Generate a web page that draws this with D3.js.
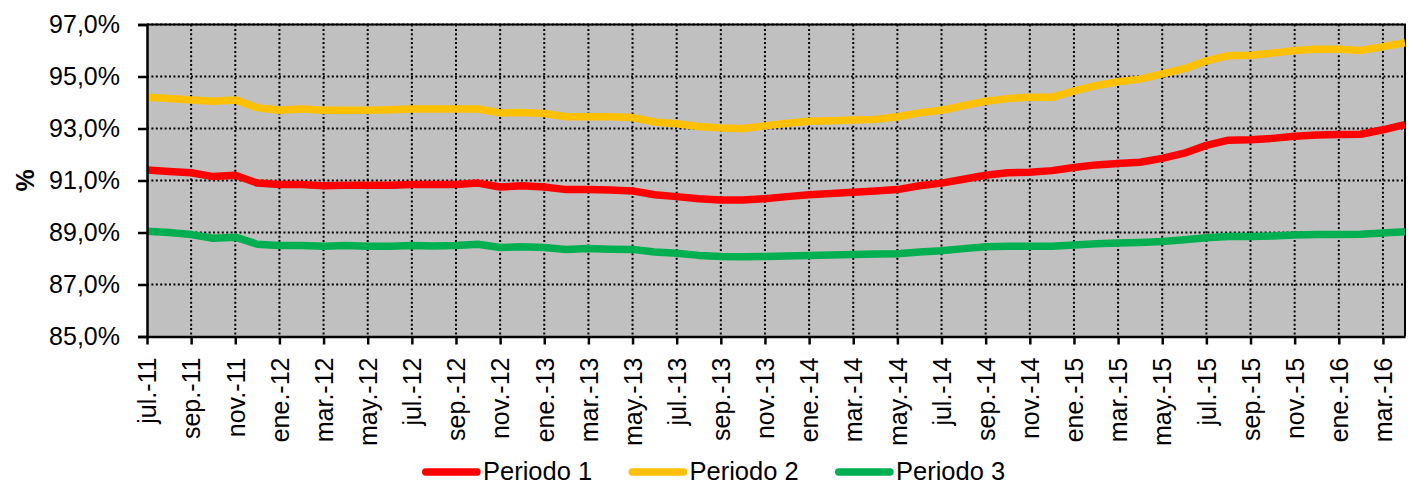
<!DOCTYPE html>
<html>
<head>
<meta charset="utf-8">
<script src="https://cdn.jsdelivr.net/npm/d3@7"></script>
<style>
  body { margin: 0; background: #fff; }
  svg { display: block; font-family: "Liberation Sans", Arial, sans-serif; }
</style>
</head>
<body>
<script>
// months jul-11 .. abr-16
let months = ['jul.-11','ago.-11','sep.-11','oct.-11','nov.-11','dic.-11',
  'ene.-12','feb.-12','mar.-12','abr.-12','may.-12','jun.-12','jul.-12','ago.-12','sep.-12','oct.-12','nov.-12','dic.-12',
  'ene.-13','feb.-13','mar.-13','abr.-13','may.-13','jun.-13','jul.-13','ago.-13','sep.-13','oct.-13','nov.-13','dic.-13',
  'ene.-14','feb.-14','mar.-14','abr.-14','may.-14','jun.-14','jul.-14','ago.-14','sep.-14','oct.-14','nov.-14','dic.-14',
  'ene.-15','feb.-15','mar.-15','abr.-15','may.-15','jun.-15','jul.-15','ago.-15','sep.-15','oct.-15','nov.-15','dic.-15',
  'ene.-16','feb.-16','mar.-16','abr.-16'];

let periodo1 = [91.4,91.35,91.3,91.15,91.2,90.9,90.85,90.85,90.8,90.82,90.82,90.82,90.85,90.85,90.85,90.9,90.75,90.8,
  90.75,90.65,90.65,90.63,90.6,90.45,90.38,90.3,90.25,90.25,90.3,90.38,90.45,90.5,90.55,90.6,90.65,90.8,90.9,91.05,
  91.2,91.3,91.32,91.38,91.5,91.6,91.65,91.7,91.85,92.05,92.35,92.55,92.57,92.62,92.7,92.75,92.77,92.78,92.95,93.15];

let periodo2 = [94.2,94.15,94.1,94.05,94.1,93.8,93.7,93.75,93.7,93.7,93.7,93.72,93.75,93.75,93.75,93.75,93.6,93.62,
  93.58,93.45,93.45,93.45,93.42,93.25,93.18,93.08,93.02,93.0,93.1,93.2,93.28,93.3,93.33,93.35,93.45,93.6,93.7,93.88,
  94.05,94.15,94.2,94.2,94.45,94.65,94.8,94.9,95.1,95.3,95.6,95.8,95.82,95.9,96.0,96.05,96.05,96.0,96.15,96.3];

let periodo3 = [89.05,89.0,88.92,88.78,88.82,88.55,88.5,88.5,88.47,88.5,88.47,88.47,88.5,88.48,88.5,88.55,88.42,88.45,
  88.42,88.35,88.38,88.36,88.35,88.25,88.2,88.12,88.08,88.07,88.08,88.1,88.12,88.13,88.15,88.17,88.18,88.25,88.3,88.38,
  88.45,88.47,88.47,88.47,88.52,88.57,88.6,88.62,88.65,88.72,88.8,88.85,88.85,88.87,88.9,88.92,88.92,88.93,88.98,89.03];

let seriesNames = ['Periodo 1', 'Periodo 2', 'Periodo 3'];
let seriesColors = ['#ff0000', '#ffc000', '#00b050'];
let yTicks = [85, 87, 89, 91, 93, 95, 97];

let width = 1413, height = 482;
let plotL = 147, plotR = 1405, plotT = 24.5, plotB = 336.5;

let svg = d3.select('body').append('svg')
  .attr('width', width)
  .attr('height', height);

let x = d3.scalePoint().domain(months).range([plotL, plotR]);
let y = d3.scaleLinear().domain([85, 97]).range([plotB, plotT]);

let labelMonths = months.filter((d, i) => i % 2 === 0);

// plot background
svg.append('rect')
  .attr('x', plotL).attr('y', plotT)
  .attr('width', plotR - plotL).attr('height', plotB - plotT)
  .attr('fill', '#c0c0c0');

// grid
svg.append('g').selectAll('line')
  .data(yTicks.slice(1))
  .enter().append('line')
  .attr('x1', plotL).attr('x2', plotR)
  .attr('y1', d => y(d)).attr('y2', d => y(d))
  .attr('stroke', '#000').attr('stroke-width', 2)
  .attr('stroke-dasharray', '2,2.4');

svg.append('g').selectAll('line')
  .data(labelMonths.slice(1))
  .enter().append('line')
  .attr('x1', d => x(d)).attr('x2', d => x(d))
  .attr('y1', plotT).attr('y2', plotB)
  .attr('stroke', '#000').attr('stroke-width', 2)
  .attr('stroke-dasharray', '2,2.4');

// border top/right
svg.append('path')
  .attr('d', 'M' + plotL + ',' + plotT + 'H' + plotR + 'V' + plotB)
  .attr('fill', 'none').attr('stroke', '#000').attr('stroke-width', 2);

// lines
let line = d3.line().x((d, i) => x(months[i])).y(d => y(d));
[periodo1, periodo2, periodo3].forEach((s, k) => {
  svg.append('path')
    .datum(s)
    .attr('d', line)
    .attr('fill', 'none')
    .attr('stroke', seriesColors[k])
    .attr('stroke-width', 7.5)
    .attr('stroke-linejoin', 'round');
});

// axes
let yAxis = d3.axisLeft(y)
  .tickValues(yTicks)
  .tickFormat(d => d.toFixed(1).replace('.', ',') + '%')
  .tickSize(9).tickPadding(18);

let gy = svg.append('g')
  .attr('transform', 'translate(' + plotL + ',0)')
  .call(yAxis);
gy.select('.domain').attr('stroke-width', 2.5);
gy.selectAll('.tick line').attr('stroke-width', 2.5);
gy.selectAll('text').attr('font-size', 25).attr('fill', '#000')
  .attr('font-family', '"Liberation Sans", Arial, sans-serif');

let xAxis = d3.axisBottom(x)
  .tickValues(labelMonths)
  .tickSize(8).tickSizeOuter(0);

let gx = svg.append('g')
  .attr('transform', 'translate(0,' + plotB + ')')
  .call(xAxis);
gx.select('.domain').attr('stroke-width', 2.5);
gx.selectAll('.tick line').attr('stroke-width', 2.5);
gx.selectAll('text')
  .attr('font-size', 25).attr('fill', '#000')
  .attr('font-family', '"Liberation Sans", Arial, sans-serif')
  .attr('transform', 'rotate(-90)')
  .attr('x', -21).attr('y', 0).attr('dy', '0.35em')
  .style('text-anchor', 'end');

// y title
svg.append('text')
  .attr('transform', 'translate(25,' + ((plotT + plotB) / 2) + ')rotate(-90)')
  .attr('text-anchor', 'middle')
  .attr('dy', '0.35em')
  .attr('font-size', 25)
  .attr('font-weight', 'bold')
  .text('%');

// legend
let legendX = [422, 628.5, 835];
let legend = svg.append('g').selectAll('g')
  .data(seriesNames)
  .enter().append('g')
  .attr('transform', (d, i) => 'translate(' + legendX[i] + ',472)');

legend.append('line')
  .attr('x1', 3.7).attr('x2', 55)
  .attr('stroke', (d, i) => seriesColors[i])
  .attr('stroke-width', 7.4)
  .attr('stroke-linecap', 'round');

legend.append('text')
  .attr('x', 61)
  .attr('y', 7.5)
  .attr('font-size', 25.5)
  .text(d => d);
</script>
</body>
</html>
